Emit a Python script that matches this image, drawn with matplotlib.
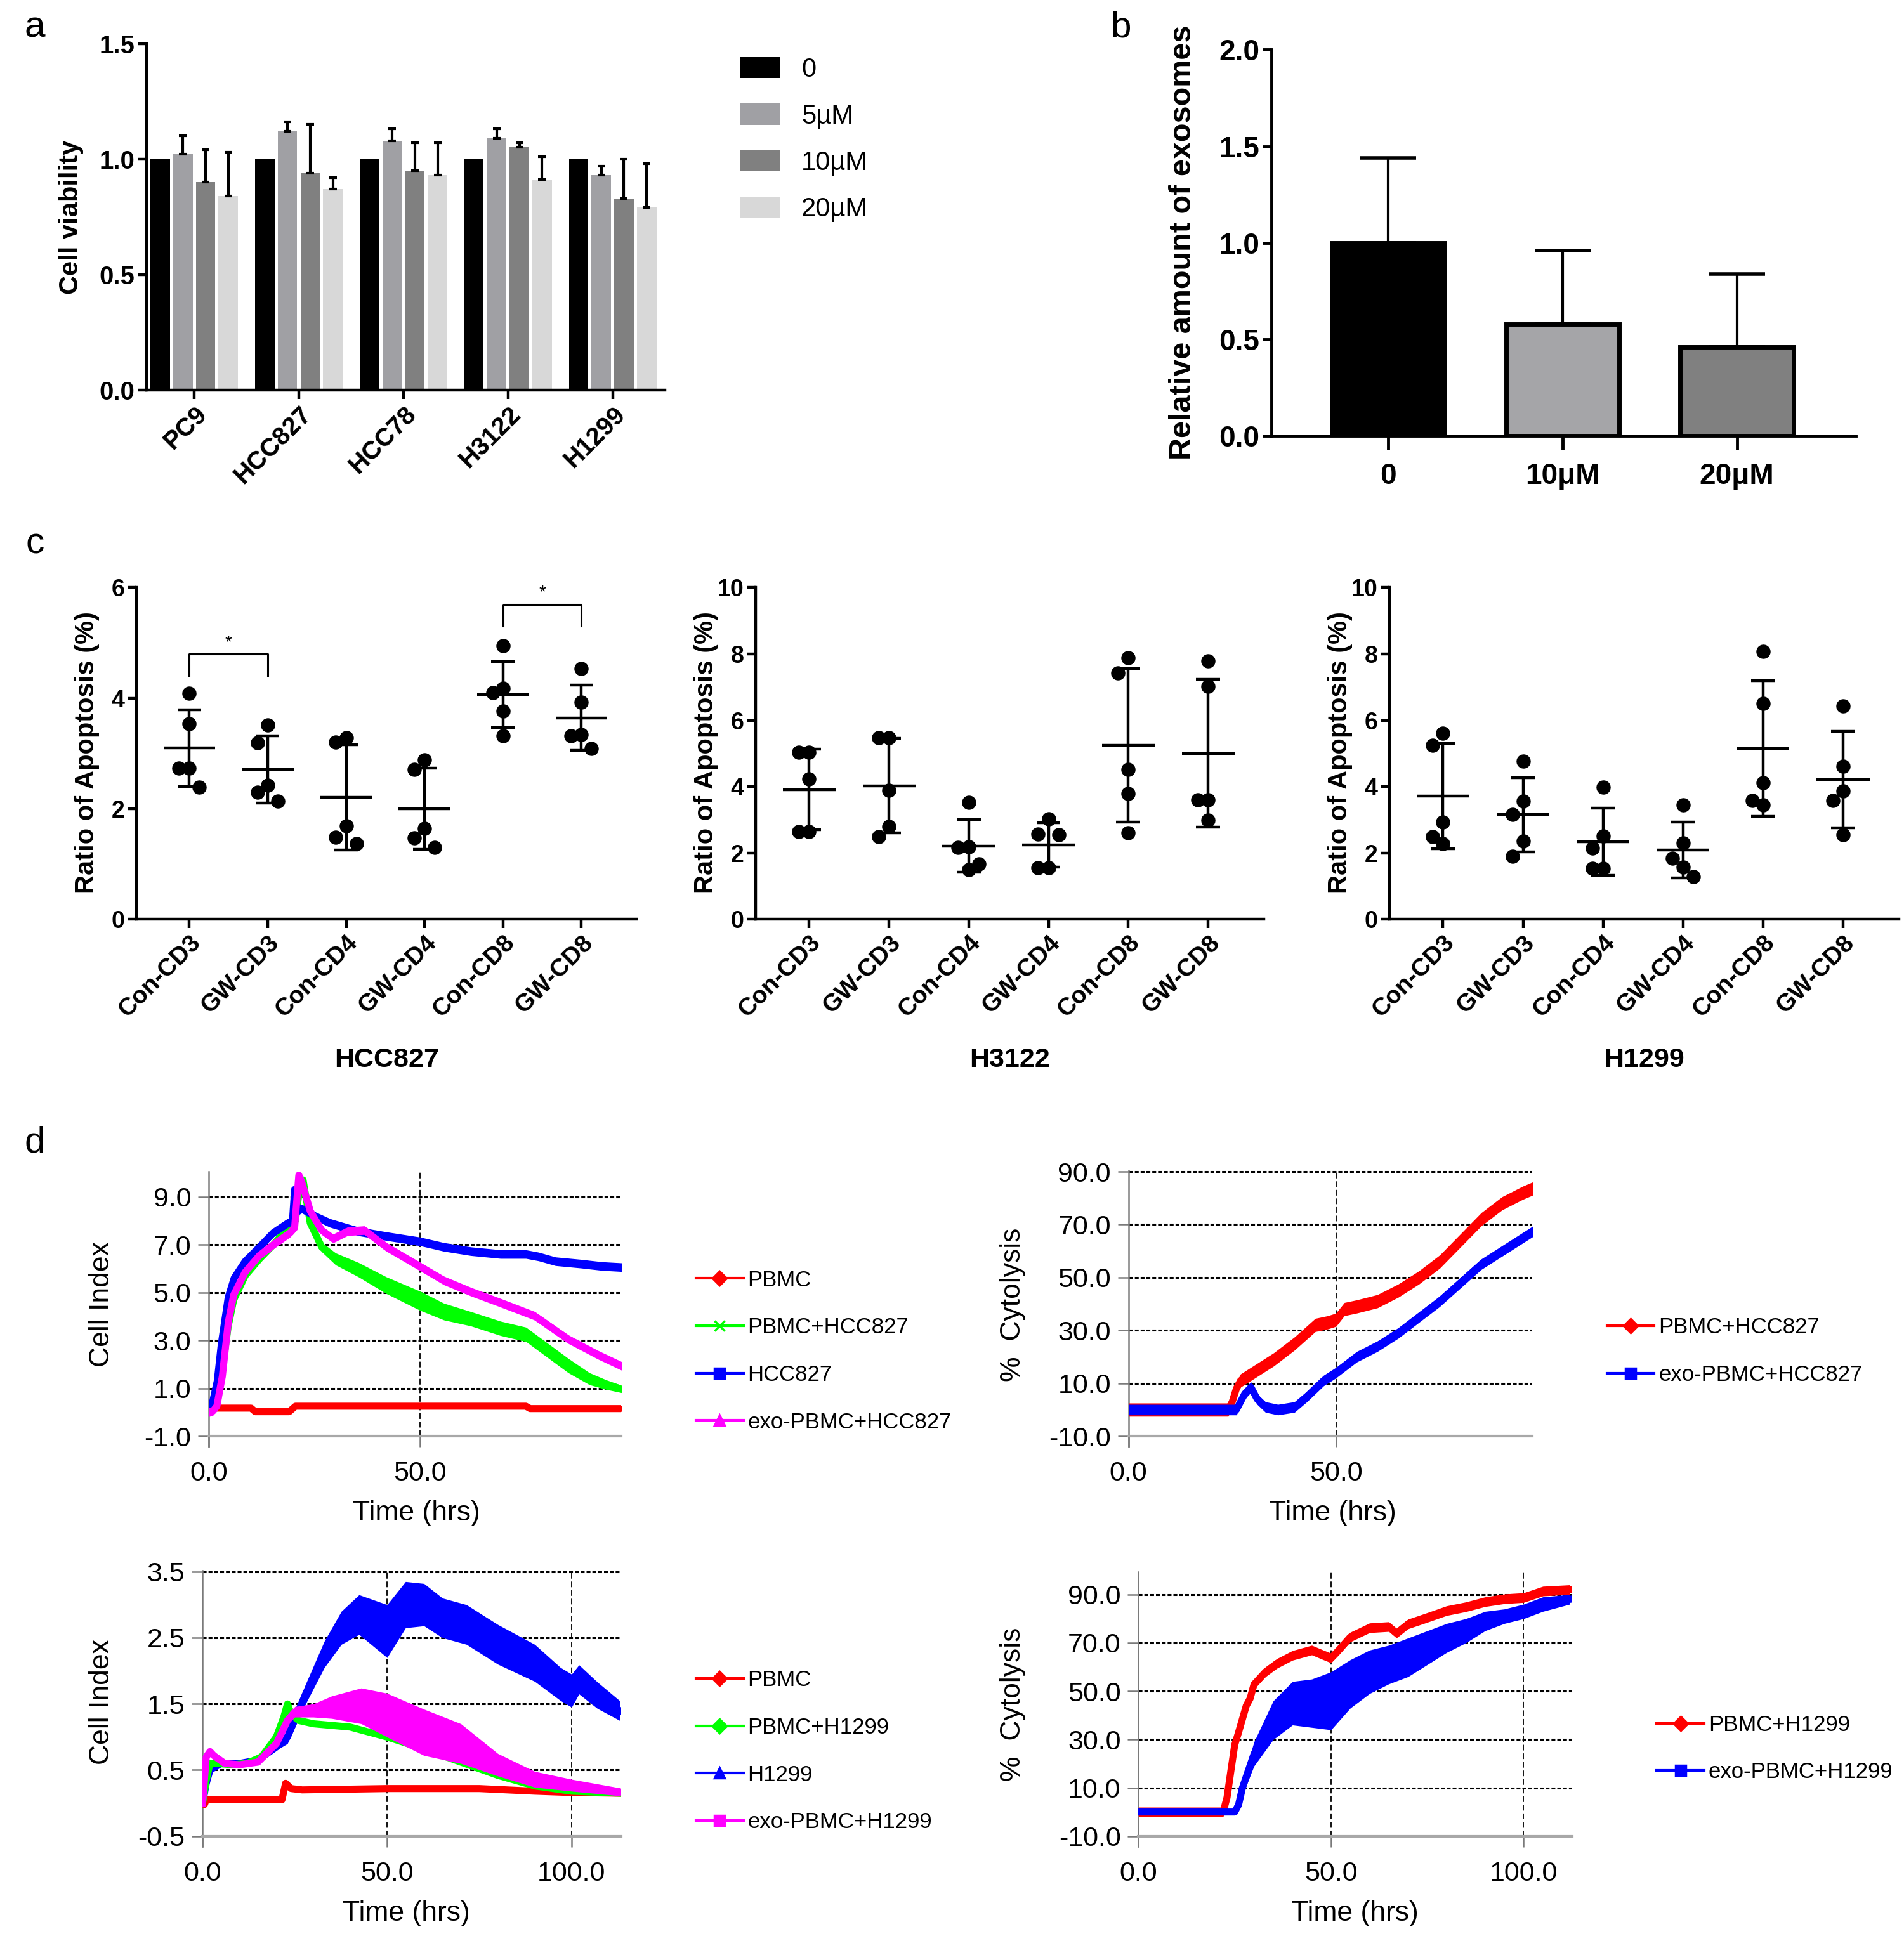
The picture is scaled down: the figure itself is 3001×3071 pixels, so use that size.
import numpy as np
import matplotlib
matplotlib.use("Agg")
import matplotlib.pyplot as plt
from matplotlib.lines import Line2D

plt.rcParams["font.family"] = ["Liberation Sans", "DejaVu Sans"]

W, H = 1532, 1568          # layout was measured on the reduced reference

# ---------------- a : cell viability ----------------
cell_lines = ["PC9", "HCC827", "HCC78", "H3122", "H1299"]
dose_labels = ["0", "5µM", "10µM", "20µM"]
via_0 = [1.00, 1.00, 1.00, 1.00, 1.00]
via_5 = [1.02, 1.12, 1.08, 1.09, 0.93]
via_10 = [0.90, 0.94, 0.95, 1.05, 0.83]
via_20 = [0.84, 0.87, 0.93, 0.91, 0.79]
sd_0 = [0.0, 0.0, 0.0, 0.0, 0.0]
sd_5 = [0.08, 0.04, 0.05, 0.04, 0.04]
sd_10 = [0.14, 0.21, 0.12, 0.02, 0.17]
sd_20 = [0.19, 0.05, 0.14, 0.10, 0.19]

# ---------------- b : exosomes ----------------
exo_groups = ["0", "10μM", "20μM"]
exo_mean = [1.00, 0.58, 0.46]
exo_sd = [0.44, 0.38, 0.38]

# ---------------- c : apoptosis ----------------
apo_groups = ["Con-CD3", "GW-CD3", "Con-CD4", "GW-CD4", "Con-CD8", "GW-CD8"]
apo_hcc827 = [[4.09, 3.54, 2.73, 2.73, 2.39],
              [3.52, 3.19, 2.42, 2.30, 2.14],
              [3.28, 3.21, 1.69, 1.48, 1.37],
              [2.88, 2.71, 1.64, 1.47, 1.30],
              [4.95, 4.18, 4.10, 3.77, 3.32],
              [4.54, 3.93, 3.34, 3.32, 3.09]]
apo_h3122 = [[5.03, 5.03, 4.24, 2.64, 2.64],
             [5.48, 5.48, 3.89, 2.79, 2.49],
             [3.52, 2.19, 2.16, 1.67, 1.50],
             [3.02, 2.57, 2.54, 1.55, 1.55],
             [7.88, 7.43, 4.51, 3.79, 2.61],
             [7.78, 7.03, 3.61, 3.61, 2.99]]
apo_h1299 = [[5.60, 5.24, 2.94, 2.50, 2.28],
             [4.77, 3.57, 3.17, 2.35, 1.90],
             [3.99, 2.52, 2.15, 1.53, 1.53],
             [3.45, 2.31, 1.85, 1.58, 1.28],
             [8.08, 6.50, 4.12, 3.59, 3.45],
             [6.44, 4.62, 3.87, 3.59, 2.54]]
sig_hcc827 = [(0, 1, 4.8), (4, 5, 5.7)]

# ---------------- d : RTCA curves (time in hrs) ----------------
# HCC827 cell index
ci1_pbmc_t = [0, 1, 10, 11, 19, 20.5, 75, 76, 98]
ci1_pbmc_v = [0.0, 0.17, 0.17, 0.02, 0.02, 0.25, 0.25, 0.15, 0.15]
ci1_mix_t = [0, 1, 2, 3.2, 4.6, 5.9, 8.6, 12, 15.3, 19.3, 20.5, 21.5, 22.3, 24, 26.7, 30,
             35.4, 42, 50, 55.6, 62, 69, 75, 80, 85, 90, 94, 98]
ci1_mix_v = [0.0, 0.1, 0.4, 1.8, 3.6, 4.7, 5.7, 6.4, 7.0, 7.8, 8.0, 9.4, 9.7, 7.9, 6.9, 6.4,
             5.95, 5.3, 4.65, 4.2, 3.9, 3.5, 3.25, 2.6, 1.95, 1.4, 1.15, 0.95]
ci1_mix_e = [0.1, 0.1, 0.1, 0.1, 0.1, 0.1, 0.1, 0.1, 0.1, 0.1, 0.1, 0.1, 0.1, 0.15, 0.2, 0.25,
             0.3, 0.35, 0.4, 0.35, 0.3, 0.3, 0.3, 0.3, 0.3, 0.25, 0.2, 0.15]
ci1_tumor_t = [0, 1, 2, 3, 4.6, 6, 8.6, 12, 15.3, 18.7, 19.8, 20.3, 21, 22, 25, 28.7, 35.4,
               42, 50, 55.6, 62, 69, 75, 78, 82, 88, 93, 98]
ci1_tumor_v = [0.0, 0.5, 1.3, 2.9, 4.8, 5.6, 6.3, 6.9, 7.5, 7.9, 8.0, 9.3, 8.4, 8.5, 8.2, 7.9,
               7.55, 7.35, 7.13, 6.9, 6.72, 6.6, 6.6, 6.5, 6.3, 6.2, 6.1, 6.05]
ci1_exo_t = [0, 1, 1.9, 3.2, 4.6, 5.9, 8.6, 12, 15.3, 19.3, 20.3, 21.3, 22, 24, 26.7, 29.4,
             32.8, 36.8, 42, 50, 55.6, 62, 69, 77, 85, 92, 98]
ci1_exo_v = [0.0, 0.05, 0.25, 1.5, 3.75, 4.9, 5.85, 6.55, 7.0, 7.5, 7.7, 9.9, 9.6, 8.4, 7.6,
             7.25, 7.55, 7.6, 6.9, 6.08, 5.5, 5.03, 4.57, 4.03, 3.05, 2.4, 1.9]

# HCC827 cytolysis
cy1_pbmc_t = [0, 24, 25, 26, 27, 30, 35, 40, 45, 48, 50, 52, 55, 60, 65, 70, 75, 80, 85, 90, 95, 98]
cy1_pbmc_v = [0, 0, 3, 8, 11, 14, 19, 25, 32, 33, 34, 38, 39, 41, 45, 50, 56, 64, 72, 78, 82, 84]
cy1_exo_t = [0, 26, 28, 29.5, 31, 33, 36, 40, 43, 47, 50, 55, 60, 65, 70, 75, 80, 85, 90, 95, 98]
cy1_exo_v = [0, 0, 6, 8.5, 4, 1, 0, 1, 5, 11, 14, 20, 24, 29, 35, 41, 48, 55, 60, 65, 68]

# H1299 cell index
ci2_pbmc_t = [0, 0.5, 1, 21.5, 22.5, 24, 27, 50, 75, 90, 100, 113]
ci2_pbmc_v = [0.0, -0.02, 0.05, 0.05, 0.3, 0.22, 0.2, 0.22, 0.22, 0.18, 0.16, 0.15]
ci2_mix_t = [0, 1, 2, 4, 8, 12, 16, 20, 22, 23, 24, 26, 30, 40, 50, 60, 70, 80, 90, 100, 113]
ci2_mix_v = [0.0, 0.35, 0.6, 0.6, 0.58, 0.6, 0.7, 1.0, 1.3, 1.5, 1.35, 1.25, 1.2, 1.15, 1.0,
             0.82, 0.62, 0.42, 0.26, 0.18, 0.15]
ci2_tumor_t = [0, 1, 2, 5, 10, 15, 20, 23, 28, 33, 37.6, 42.4, 50, 55, 60, 65, 71.5, 80, 90,
               97, 100, 102, 107, 113]
ci2_tumor_v = [0.0, 0.3, 0.5, 0.6, 0.6, 0.65, 0.85, 1.0, 1.66, 2.25, 2.65, 2.85, 2.6, 3.0, 3.0,
               2.8, 2.7, 2.4, 2.12, 1.8, 1.7, 1.87, 1.63, 1.4]
ci2_tumor_e = [0.02, 0.05, 0.05, 0.03, 0.03, 0.03, 0.05, 0.1, 0.15, 0.2, 0.25, 0.3, 0.4, 0.35,
               0.32, 0.3, 0.3, 0.3, 0.28, 0.25, 0.25, 0.22, 0.2, 0.15]
ci2_exo_t = [0, 1, 2, 3, 6, 10, 15, 20, 23, 25, 30, 35, 43, 50, 60, 70, 80, 90, 100, 113]
ci2_exo_v = [0.0, 0.7, 0.78, 0.72, 0.6, 0.58, 0.62, 0.9, 1.25, 1.38, 1.4, 1.45, 1.47, 1.33,
             1.07, 0.9, 0.58, 0.36, 0.27, 0.17]
ci2_exo_e = [0.02, 0.05, 0.05, 0.05, 0.04, 0.04, 0.04, 0.05, 0.06, 0.08, 0.1, 0.17, 0.27, 0.33,
             0.35, 0.3, 0.17, 0.12, 0.09, 0.06]

# H1299 cytolysis
cy2_pbmc_t = [0, 22, 23, 24, 25, 26, 28, 29, 30, 33, 36, 40, 45, 48, 50, 52, 55, 60, 65, 67,
              70, 75, 80, 85, 90, 95, 100, 105, 112]
cy2_pbmc_v = [0, 0, 6, 17, 27.8, 33, 44, 47, 52.8, 58, 61.5, 64.8, 67, 65, 63.7, 67, 72.4,
              76.2, 76.7, 74, 77.8, 80.5, 83.3, 84.9, 87, 88.2, 88.7, 91.4, 92]
cy2_exo_t = [0, 25, 26, 27, 30, 35, 40, 45, 50, 55, 60, 65, 70, 75, 80, 85, 90, 95, 100, 105, 112]
cy2_exo_v = [0, 0, 3, 10, 24, 38, 45, 45, 46, 53, 58, 61, 64, 68, 72, 75, 79, 81, 83, 86, 88]
cy2_exo_e = [1, 1, 2, 3, 5, 8, 9, 10, 12, 10, 9, 8, 8, 7, 6, 5, 4, 3, 3, 3, 2]

RED, GREEN, BLUE, MAG = "#ff0000", "#00ff00", "#0000ff", "#ff00ff"

fig = plt.figure(figsize=(30.01, 30.71), dpi=100, facecolor="white")


def box(l, r, t, b):
    return fig.add_axes([l / W, 1 - b / H, (r - l) / W, (b - t) / H])


def label(x, y, s, **kw):
    fig.text(x / W, 1 - y / H, s, ha="center", va="center", **kw)


def prism_axes(ax, lw=3.2):
    for s in ("top", "right"):
        ax.spines[s].set_visible(False)
    for s in ("left", "bottom"):
        ax.spines[s].set_linewidth(lw)
    ax.tick_params(width=lw, length=10, direction="out")


# ---------------- panel a ----------------
ax = box(118, 535, 35, 314)
prism_axes(ax)
x = np.arange(len(cell_lines))
pitch = 0.217
cols_a = ["#000000", "#a0a0a4", "#808080", "#d8d8d8"]
for k, (vals, sds) in enumerate(zip([via_0, via_5, via_10, via_20], [sd_0, sd_5, sd_10, sd_20])):
    xs = x + (k - 1.5) * pitch
    ax.bar(xs, vals, width=0.186, color=cols_a[k], label=dose_labels[k], zorder=2)
    up = np.array(sds)
    ax.errorbar(xs[up > 0], np.array(vals)[up > 0], yerr=[np.zeros((up > 0).sum()), up[up > 0]],
                fmt="none", ecolor="black", elinewidth=3, capsize=4, capthick=3, zorder=3)
ax.set_xlim(-0.455, 4.5)
ax.set_ylim(0, 1.5)
ax.set_yticks([0, 0.5, 1.0, 1.5])
ax.set_yticklabels(["0.0", "0.5", "1.0", "1.5"], fontsize=29, fontweight="bold")
ax.set_xticks(x)
ax.set_xticklabels(cell_lines, rotation=45, ha="right", va="top", rotation_mode="anchor",
                   fontsize=29, fontweight="bold")
ax.legend(loc="upper left", bbox_to_anchor=(596 / W, 1 - 46 / H), bbox_transform=fig.transFigure,
          frameon=False, fontsize=30, handlelength=1.5, handleheight=0.85,
          handletextpad=0.8, labelspacing=0.8, borderpad=0, borderaxespad=0)
label(57, 175, "Cell viability", rotation=90, fontsize=30, fontweight="bold")

# ---------------- panel b ----------------
ax = box(1023, 1493, 40, 351)
prism_axes(ax, lw=3.5)
xb = np.arange(len(exo_groups))
ax.bar(xb, exo_mean, width=0.65, color=["#000000", "#a5a5a8", "#808080"],
       edgecolor="black", linewidth=5, zorder=2)
ax.errorbar(xb, exo_mean, yerr=[np.zeros(3), exo_sd], fmt="none", ecolor="black",
            elinewidth=3, capsize=32, capthick=4, zorder=1)
ax.set_xlim(-0.67, 2.68)
ax.set_ylim(0, 2.0)
ax.set_yticks([0, 0.5, 1.0, 1.5, 2.0])
ax.set_yticklabels(["0.0", "0.5", "1.0", "1.5", "2.0"], fontsize=33, fontweight="bold")
ax.set_xticks(xb)
ax.set_xticklabels(exo_groups, fontsize=33, fontweight="bold")
ax.tick_params(axis="x", length=16, pad=14)
label(952, 195, "Relative amount of exosomes", rotation=90, fontsize=35, fontweight="bold")


# ---------------- panel c ----------------
def swarm(vals, ymax):
    placed = []
    for v in vals:
        for o in (0, -0.13, 0.13, -0.24, 0.24):
            if all(abs(o - po) > 0.12 or abs(v - pv) > 0.06 * ymax for po, pv in placed):
                break
        placed.append((o, v))
    return [p[0] for p in placed]


def apoptosis(l, r, data, ymax, step, xname, sigs=()):
    ax = box(l, r, 473, 740)
    prism_axes(ax)
    for i, vals in enumerate(data):
        offs = swarm(vals, ymax)
        ax.scatter(np.array(offs) + i, vals, s=230, color="black", zorder=3)
        m, s = np.mean(vals), np.std(vals, ddof=1)
        ax.hlines(m, i - 0.33, i + 0.33, color="black", lw=3.2, zorder=2)
        ax.vlines(i, m - s, m + s, color="black", lw=3.2, zorder=2)
        ax.hlines([m - s, m + s], i - 0.15, i + 0.15, color="black", lw=3.2, zorder=2)
    for i, j, y in sigs:
        h = 0.065 * ymax
        ax.plot([i, i, j, j], [y - h, y, y, y - h], color="black", lw=2.2)
        ax.text((i + j) / 2, y + 0.01 * ymax, "*", ha="center", va="bottom", fontsize=20)
    ax.set_xlim(-0.67, 5.7)
    ax.set_ylim(0, ymax)
    ticks = np.arange(0, ymax + 0.1, step)
    ax.set_yticks(ticks)
    ax.set_yticklabels([f"{v:g}" for v in ticks], fontsize=27, fontweight="bold")
    ax.set_xticks(range(len(apo_groups)))
    ax.set_xticklabels(apo_groups, rotation=45, ha="right", va="top", rotation_mode="anchor",
                       fontsize=28, fontweight="bold")
    label((l + r) / 2, 853, xname, fontsize=31, fontweight="bold")
    label(l - 40, 606, "Ratio of Apoptosis (%)", rotation=90, fontsize=30, fontweight="bold")


apoptosis(110, 512, apo_hcc827, 6, 2, "HCC827", sig_hcc827)
apoptosis(608, 1017, apo_h3122, 10, 2, "H3122")
apoptosis(1118, 1528, apo_h1299, 10, 2, "H1299")


# ---------------- panel d ----------------
def rtca(l, r, t, b, xmax, ylim, yticks, xticks):
    ax = box(l, r, t, b)
    ax.set_xlim(0, xmax)
    ax.set_ylim(*ylim)
    for s in ("top", "right"):
        ax.spines[s].set_visible(False)
    ax.spines["left"].set_color("#7a7a7a")
    ax.spines["left"].set_linewidth(1.8)
    ax.spines["bottom"].set_color("#a8a8a8")
    ax.spines["bottom"].set_linewidth(3)
    ax.spines["bottom"].set_position(("data", yticks[0]))
    ax.spines["left"].set_bounds(yticks[0] - 0.04 * (ylim[1] - ylim[0]), ylim[1])
    for y in yticks[1:]:
        ax.axhline(y, color="black", ls=(0, (2, 1)), lw=2.2, zorder=1)
    for xv in xticks[1:]:
        ax.axvline(xv, color="black", ls=(0, (5, 2.5)), lw=1.3, zorder=1)
    ax.set_yticks(yticks)
    ax.set_yticklabels([f"{v:.1f}" for v in yticks], fontsize=31)
    ax.set_xticks(xticks)
    ax.set_xticklabels([f"{v:.1f}" for v in xticks], fontsize=31)
    ax.tick_params(length=12, width=1.8, color="#7a7a7a", pad=8)
    ax.tick_params(axis="x", pad=16)
    return ax


def band(ax, t, v, e, color):
    t, v = np.asarray(t, float), np.asarray(v, float)
    e = np.broadcast_to(np.asarray(e, float), v.shape)
    ax.fill_between(t, v - e, v + e, color=color, lw=0, zorder=3)
    ax.plot(t, v, color=color, lw=8, zorder=3)


def d_legend(ax, entries, x, y):
    hs = [Line2D([0], [0], color=c, lw=3, marker=m, markersize=11, markeredgewidth=2.5,
                 markeredgecolor=c, label=s) for s, c, m in entries]
    ax.legend(handles=hs, loc="upper left", bbox_to_anchor=(x / W, 1 - y / H),
              bbox_transform=fig.transFigure, frameon=False, fontsize=25, handlelength=2.15,
              handletextpad=0.2, labelspacing=1.2, borderpad=0, borderaxespad=0, numpoints=1)


ax = rtca(168, 500, 943, 1156, 97.6, (-1, 10.05), [-1, 1, 3, 5, 7, 9], [0, 50])
band(ax, ci1_pbmc_t, ci1_pbmc_v, 0.12, RED)
band(ax, ci1_mix_t, ci1_mix_v, ci1_mix_e, GREEN)
band(ax, ci1_tumor_t, ci1_tumor_v, 0.18, BLUE)
band(ax, ci1_exo_t, ci1_exo_v, 0.18, MAG)
d_legend(ax, [("PBMC", RED, "D"), ("PBMC+HCC827", GREEN, "x"), ("HCC827", BLUE, "s"),
              ("exo-PBMC+HCC827", MAG, "^")], 560, 1022)
label(82, 1050, "Cell Index", rotation=90, fontsize=32)
label(335, 1218, "Time (hrs)", fontsize=32)

ax = rtca(908, 1233, 942, 1156, 97.3, (-10, 90.5), [-10, 10, 30, 50, 70, 90], [0, 50])
band(ax, cy1_pbmc_t, cy1_pbmc_v, 2.5, RED)
band(ax, cy1_exo_t, cy1_exo_v, 2.0, BLUE)
d_legend(ax, [("PBMC+HCC827", RED, "D"), ("exo-PBMC+HCC827", BLUE, "s")], 1293, 1060)
label(815, 1050, "%  Cytolysis", rotation=90, fontsize=32)
label(1072, 1218, "Time (hrs)", fontsize=32)

ax = rtca(163, 500, 1264, 1478, 113.5, (-0.5, 3.52), [-0.5, 0.5, 1.5, 2.5, 3.5], [0, 50, 100])
band(ax, ci2_tumor_t, ci2_tumor_v, ci2_tumor_e, BLUE)
band(ax, ci2_pbmc_t, ci2_pbmc_v, 0.04, RED)
band(ax, ci2_mix_t, ci2_mix_v, 0.04, GREEN)
band(ax, ci2_exo_t, ci2_exo_v, ci2_exo_e, MAG)
d_legend(ax, [("PBMC", RED, "D"), ("PBMC+H1299", GREEN, "D"), ("H1299", BLUE, "^"),
              ("exo-PBMC+H1299", MAG, "s")], 560, 1344)
label(82, 1370, "Cell Index", rotation=90, fontsize=32)
label(327, 1540, "Time (hrs)", fontsize=32)

ax = rtca(916, 1265, 1265, 1478, 112.6, (-10, 99.5), [-10, 10, 30, 50, 70, 90], [0, 50, 100])
band(ax, cy2_pbmc_t, cy2_pbmc_v, 2.0, RED)
band(ax, cy2_exo_t, cy2_exo_v, cy2_exo_e, BLUE)
d_legend(ax, [("PBMC+H1299", RED, "D"), ("exo-PBMC+H1299", BLUE, "s")], 1333, 1380)
label(815, 1372, "%  Cytolysis", rotation=90, fontsize=32)
label(1090, 1540, "Time (hrs)", fontsize=32)

# panel letters
for s, (px, py) in {"a": (28, 22), "b": (902, 22), "c": (28, 438), "d": (28, 920)}.items():
    label(px, py, s, fontsize=42)

fig.savefig("out.png", dpi=100, facecolor="white")
